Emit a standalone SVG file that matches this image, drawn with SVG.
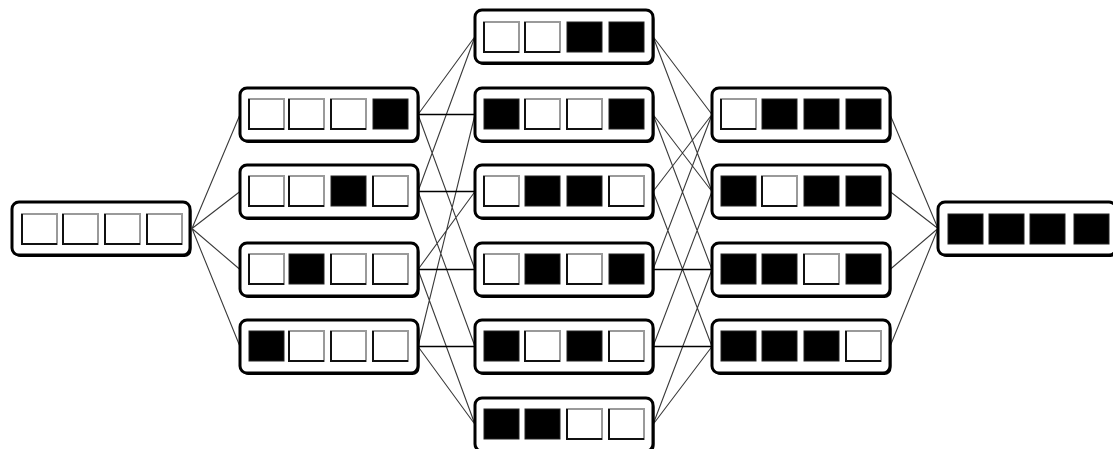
<svg xmlns="http://www.w3.org/2000/svg" xmlns:xlink="http://www.w3.org/1999/xlink" width="1113" height="449" viewBox="0 0 1113 449">
<style>
.e{stroke:#3a3a3a;stroke-width:1.1;fill:none}
.h{stroke:#000;stroke-width:1.6;fill:none}
.sh{fill:#000}
.fr{fill:#fff;stroke:#000;stroke-width:3}
.wc{fill:#fff;stroke:#9a9a9a;stroke-width:2}
.wd{fill:none;stroke:#111;stroke-width:2}
.bc{fill:#000;stroke:#222;stroke-width:1}
</style>
<defs>
<g id="frame"><rect class="sh" x="1.5" y="2" width="178" height="53" rx="7"/><rect class="fr" x="0" y="0" width="178" height="53" rx="7"/></g>
<g id="w"><rect class="wc" x="0" y="0" width="35" height="30"/><path class="wd" d="M0 0V30H35"/></g>
<g id="b"><rect class="bc" x="0" y="0" width="35" height="30"/></g>
</defs>
<rect width="1113" height="449" fill="#fff"/>
<g id="connectors">
<path class="e" d="M192 228.5L240 114.5M192 228.5L240 191.5M192 228.5L240 269.5M192 228.5L240 346.5"/>
<path class="e" d="M418 114.5L475 36.5M418 114.5L475 269.5M418 191.5L475 36.5M418 191.5L475 346.5M418 269.5L475 191.5M418 269.5L475 424.5M418 346.5L475 114.5M418 346.5L475 424.5"/>
<path class="h" d="M418 114.5H475M418 191.5H475M418 269.5H475M418 346.5H475"/>
<path class="e" d="M653 36.5L712 114.5M653 36.5L712 191.5M653 114.5L712 191.5M653 114.5L712 269.5M653 191.5L712 114.5M653 191.5L712 346.5M653 269.5L712 114.5M653 346.5L712 191.5M653 424.5L712 269.5M653 424.5L712 346.5"/>
<path class="h" d="M653 269.5H712M653 346.5H712"/>
<path class="e" d="M890 114.5L938 228.5M890 191.5L938 228.5M890 269.5L938 228.5M890 346.5L938 228.5"/>
</g>
<g id="n0000" transform="translate(12,202)"><use xlink:href="#frame"/><use xlink:href="#w" x="10" y="12"/><use xlink:href="#w" x="51" y="12"/><use xlink:href="#w" x="93" y="12"/><use xlink:href="#w" x="135" y="12"/></g>
<g id="n0001" transform="translate(240,88)"><use xlink:href="#frame"/><use xlink:href="#w" x="9" y="11"/><use xlink:href="#w" x="49" y="11"/><use xlink:href="#w" x="91" y="11"/><use xlink:href="#b" x="133" y="11"/></g>
<g id="n0010" transform="translate(240,165)"><use xlink:href="#frame"/><use xlink:href="#w" x="9" y="11"/><use xlink:href="#w" x="49" y="11"/><use xlink:href="#b" x="91" y="11"/><use xlink:href="#w" x="133" y="11"/></g>
<g id="n0100" transform="translate(240,243)"><use xlink:href="#frame"/><use xlink:href="#w" x="9" y="11"/><use xlink:href="#b" x="49" y="11"/><use xlink:href="#w" x="91" y="11"/><use xlink:href="#w" x="133" y="11"/></g>
<g id="n1000" transform="translate(240,320)"><use xlink:href="#frame"/><use xlink:href="#b" x="9" y="11"/><use xlink:href="#w" x="49" y="11"/><use xlink:href="#w" x="91" y="11"/><use xlink:href="#w" x="133" y="11"/></g>
<g id="n0011" transform="translate(475,10)"><use xlink:href="#frame"/><use xlink:href="#w" x="9" y="12"/><use xlink:href="#w" x="50" y="12"/><use xlink:href="#b" x="92" y="12"/><use xlink:href="#b" x="134" y="12"/></g>
<g id="n1001" transform="translate(475,88)"><use xlink:href="#frame"/><use xlink:href="#b" x="9" y="11"/><use xlink:href="#w" x="50" y="11"/><use xlink:href="#w" x="92" y="11"/><use xlink:href="#b" x="134" y="11"/></g>
<g id="n0110" transform="translate(475,165)"><use xlink:href="#frame"/><use xlink:href="#w" x="9" y="11"/><use xlink:href="#b" x="50" y="11"/><use xlink:href="#b" x="92" y="11"/><use xlink:href="#w" x="134" y="11"/></g>
<g id="n0101" transform="translate(475,243)"><use xlink:href="#frame"/><use xlink:href="#w" x="9" y="11"/><use xlink:href="#b" x="50" y="11"/><use xlink:href="#w" x="92" y="11"/><use xlink:href="#b" x="134" y="11"/></g>
<g id="n1010" transform="translate(475,320)"><use xlink:href="#frame"/><use xlink:href="#b" x="9" y="11"/><use xlink:href="#w" x="50" y="11"/><use xlink:href="#b" x="92" y="11"/><use xlink:href="#w" x="134" y="11"/></g>
<g id="n1100" transform="translate(475,398)"><use xlink:href="#frame"/><use xlink:href="#b" x="9" y="11"/><use xlink:href="#b" x="50" y="11"/><use xlink:href="#w" x="92" y="11"/><use xlink:href="#w" x="134" y="11"/></g>
<g id="n0111" transform="translate(712,88)"><use xlink:href="#frame"/><use xlink:href="#w" x="9" y="11"/><use xlink:href="#b" x="50" y="11"/><use xlink:href="#b" x="92" y="11"/><use xlink:href="#b" x="134" y="11"/></g>
<g id="n1011" transform="translate(712,165)"><use xlink:href="#frame"/><use xlink:href="#b" x="9" y="11"/><use xlink:href="#w" x="50" y="11"/><use xlink:href="#b" x="92" y="11"/><use xlink:href="#b" x="134" y="11"/></g>
<g id="n1101" transform="translate(712,243)"><use xlink:href="#frame"/><use xlink:href="#b" x="9" y="11"/><use xlink:href="#b" x="50" y="11"/><use xlink:href="#w" x="92" y="11"/><use xlink:href="#b" x="134" y="11"/></g>
<g id="n1110" transform="translate(712,320)"><use xlink:href="#frame"/><use xlink:href="#b" x="9" y="11"/><use xlink:href="#b" x="50" y="11"/><use xlink:href="#b" x="92" y="11"/><use xlink:href="#w" x="134" y="11"/></g>
<g id="n1111" transform="translate(938,202)"><use xlink:href="#frame"/><use xlink:href="#b" x="10" y="12"/><use xlink:href="#b" x="51" y="12"/><use xlink:href="#b" x="92" y="12"/><use xlink:href="#b" x="136" y="12"/></g>
</svg>
